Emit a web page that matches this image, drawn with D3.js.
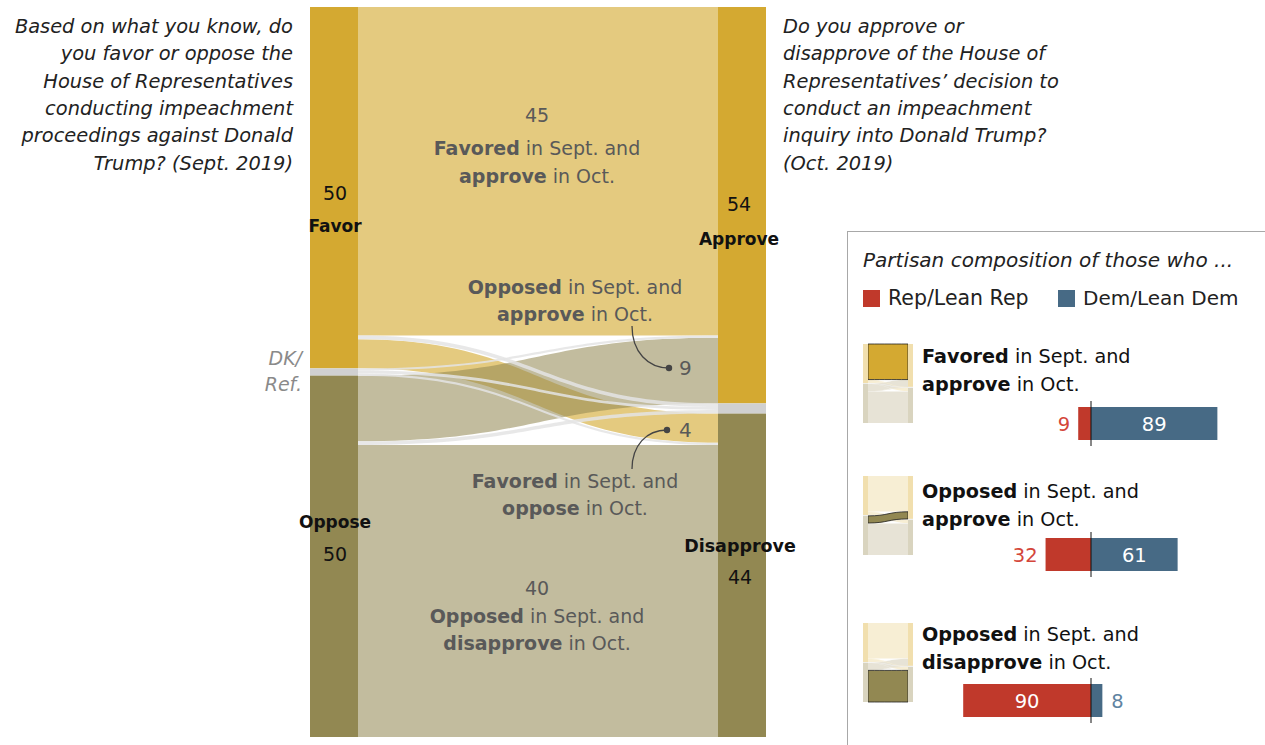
<!DOCTYPE html>
<html lang="en">
<head>
<meta charset="utf-8">
<style>
  body { margin: 0; background: #fff; }
  svg { display: block; font-family: "DejaVu Sans", Roboto, sans-serif; }
</style>
<script src="https://d3js.org/d3.v7.min.js"></script>
<title>Impeachment views, Sept. to Oct.</title>
</head>
<body>
<div id="canvas"></div>
<script>
var width = 1265, height = 745;

// answers in Sept. (left column) and Oct. (right column)
var septNodes = ["Favor", "DK/Ref.", "Oppose"];
var octNodes = ["Approve", "DK/Ref.", "Disapprove"];

// share of all adults moving from each Sept. answer to each Oct. answer
var flowSource = ["Favor", "Favor", "Favor", "DK/Ref.", "DK/Ref.", "DK/Ref.", "Oppose", "Oppose", "Oppose"];
var flowTarget = ["Approve", "DK/Ref.", "Disapprove", "Approve", "DK/Ref.", "Disapprove", "Approve", "DK/Ref.", "Disapprove"];
var flowValue = [45, 0.5, 4, 0.3, 0.4, 0.3, 9, 0.5, 40];

// partisan composition of three of the groups
var groupFlow = [0, 6, 8];
var repShare = [9, 32, 90];
var demShare = [89, 61, 8];

var nodeColor = { "Favor": "#d4a931", "Approve": "#d4a931", "DK/Ref.": "#d0d0d0", "Oppose": "#928852", "Disapprove": "#928852" };
var paleNode = { "Favor": "#f1dfae", "Approve": "#f1dfae", "DK/Ref.": "#eeeeee", "Oppose": "#d9d4bf", "Disapprove": "#d9d4bf" };
var paleLink = { "Favor": "#f7eed4", "DK/Ref.": "#f1f1f1", "Oppose": "#e7e3d6" };
var repColor = "#c0392b", demColor = "#476a85";

var svg = d3.select("#canvas").append("svg")
    .attr("width", width).attr("height", height);

// stacks the flows inside each node
function layout(y0, y1) {
    var links = flowValue.map(function(v, i) {
        return { source: flowSource[i], target: flowTarget[i], value: v, i: i };
    });
    var y = d3.scaleLinear().domain([0, d3.sum(flowValue)]).range([y0, y1]);
    var left = {}, right = {}, acc = 0;
    septNodes.forEach(function(n) {
        var v = d3.sum(links.filter(function(l) { return l.source === n; }), function(l) { return l.value; });
        left[n] = { start: acc, end: acc + v, value: v }; acc += v;
    });
    acc = 0;
    octNodes.forEach(function(n) {
        var v = d3.sum(links.filter(function(l) { return l.target === n; }), function(l) { return l.value; });
        right[n] = { start: acc, end: acc + v, value: v }; acc += v;
    });
    septNodes.forEach(function(s) {
        var c = left[s].start;
        octNodes.forEach(function(t) {
            links.filter(function(l) { return l.source === s && l.target === t; })
                .forEach(function(l) { l.s0 = c; c += l.value; l.s1 = c; });
        });
    });
    octNodes.forEach(function(t) {
        var c = right[t].start;
        septNodes.forEach(function(s) {
            links.filter(function(l) { return l.source === s && l.target === t; })
                .forEach(function(l) { l.t0 = c; c += l.value; l.t1 = c; });
        });
    });
    return { y: y, left: left, right: right, links: links };
}

function band(x0, x1, a0, a1, b0, b1) {
    var xm = (x0 + x1) / 2, p = d3.path();
    p.moveTo(x0, a0);
    p.bezierCurveTo(xm, a0, xm, b0, x1, b0);
    p.lineTo(x1, b1);
    p.bezierCurveTo(xm, b1, xm, a1, x0, a1);
    p.closePath();
    return p.toString();
}

function isDK(l) { return l.source === "DK/Ref." || l.target === "DK/Ref."; }

// draw order: straight bands, then the crossing ones, grey last
function drawOrder(l) {
    if (isDK(l)) return 3;
    if (l.source === "Oppose" && l.target === "Approve") return 2;
    if (l.source === "Favor" && l.target === "Disapprove") return 1;
    return 0;
}

function drawFlows(g, o) {
    var L = layout(o.y0, o.y1), y = L.y;
    var links = L.links.slice().sort(function(a, b) { return drawOrder(a) - drawOrder(b); });

    g.selectAll("path.flow").data(links).enter().append("path")
        .attr("class", "flow")
        .attr("d", function(l) { return band(o.xl1, o.xr0, y(l.s0), y(l.s1), y(l.t0), y(l.t1)); })
        .attr("fill", function(l) {
            if (o.pale) return paleLink[l.source];
            return isDK(l) ? "#e4e4e4" : nodeColor[l.source];
        })
        .attr("fill-opacity", function(l) {
            if (o.pale) return 1;
            if (isDK(l)) return 0.85;
            return l.source === "Favor" ? 0.62 : 0.56;
        });

    // highlighted band drawn again on top
    if (o.pale) {
        var h = L.links[o.highlight];
        g.append("path")
            .attr("d", band(o.xl1, o.xr0, y(h.s0), y(h.s1), y(h.t0), y(h.t1)))
            .attr("fill", nodeColor[h.source]).attr("stroke", "#222").attr("stroke-width", 0.8);
    }

    var fill = o.pale ? paleNode : nodeColor;
    g.selectAll("rect.left").data(septNodes).enter().append("rect")
        .attr("class", "left")
        .attr("x", o.xl0).attr("width", o.xl1 - o.xl0)
        .attr("y", function(n) { return y(L.left[n].start); })
        .attr("height", function(n) { return y(L.left[n].end) - y(L.left[n].start); })
        .attr("fill", function(n) { return fill[n]; });
    g.selectAll("rect.right").data(octNodes).enter().append("rect")
        .attr("class", "right")
        .attr("x", o.xr0).attr("width", o.xr1 - o.xr0)
        .attr("y", function(n) { return y(L.right[n].start); })
        .attr("height", function(n) { return y(L.right[n].end) - y(L.right[n].start); })
        .attr("fill", function(n) { return fill[n]; });
    return L;
}

function rich(g, x, y, segs, anchor, color, size) {
    var t = g.append("text").attr("x", x).attr("y", y)
        .attr("text-anchor", anchor).attr("fill", color).attr("font-size", size);
    segs.forEach(function(s) {
        t.append("tspan").attr("font-weight", s[1] ? "bold" : "normal").text(s[0]);
    });
    return t;
}

// main flow chart
var main = svg.append("g");
var M = drawFlows(main, { y0: 7, y1: 737, xl0: 310, xl1: 358, xr0: 718, xr1: 766, pale: false });

// node labels
var nodeText = svg.append("g").attr("text-anchor", "middle").attr("font-size", 19).attr("fill", "#111");
nodeText.append("text").attr("x", 335).attr("y", 200).text(Math.round(M.left["Favor"].value));
nodeText.append("text").attr("x", 335).attr("y", 232).attr("font-weight", "bold").attr("font-size", 17).text("Favor");
nodeText.append("text").attr("x", 335).attr("y", 528).attr("font-weight", "bold").attr("font-size", 17).text("Oppose");
nodeText.append("text").attr("x", 335).attr("y", 561).text(Math.round(M.left["Oppose"].value));
nodeText.append("text").attr("x", 739).attr("y", 211).text(Math.round(M.right["Approve"].value));
nodeText.append("text").attr("x", 739).attr("y", 245).attr("font-weight", "bold").attr("font-size", 17).text("Approve");
nodeText.append("text").attr("x", 740).attr("y", 552).attr("font-weight", "bold").attr("font-size", 17.5).text("Disapprove");
nodeText.append("text").attr("x", 740).attr("y", 584).text(Math.round(M.right["Disapprove"].value));

var dk = svg.append("g").attr("text-anchor", "end").attr("font-size", 19)
    .attr("font-style", "italic").attr("fill", "#8a8a8a");
dk.append("text").attr("x", 302).attr("y", 365).text("DK/");
dk.append("text").attr("x", 302).attr("y", 391).text("Ref.");

// questions
var qLeft = ["Based on what you know, do", "you favor or oppose the", "House of Representatives",
    "conducting impeachment", "proceedings against Donald", "Trump? (Sept. 2019)"];
var qRight = ["Do you approve or", "disapprove of the House of", "Representatives\u2019 decision to",
    "conduct an impeachment", "inquiry into Donald Trump?", "(Oct. 2019)"];
svg.append("g").attr("font-size", 19.4).attr("font-style", "italic").attr("fill", "#222")
    .attr("text-anchor", "end")
    .selectAll("text").data(qLeft).enter().append("text")
    .attr("x", 293).attr("y", function(d, i) { return 33 + i * 27.3; }).text(function(d) { return d; });
svg.append("g").attr("font-size", 19.4).attr("font-style", "italic").attr("fill", "#222")
    .selectAll("text").data(qRight).enter().append("text")
    .attr("x", 783).attr("y", function(d, i) { return 33 + i * 27.3; }).text(function(d) { return d; });

// flow annotations
var note = svg.append("g");
var grey = "#595959";
rich(note, 537, 122, [[Math.round(flowValue[0]), 0]], "middle", grey, 19);
rich(note, 537, 155, [["Favored", 1], [" in Sept. and", 0]], "middle", grey, 19);
rich(note, 537, 183, [["approve", 1], [" in Oct.", 0]], "middle", grey, 19);
rich(note, 575, 294, [["Opposed", 1], [" in Sept. and", 0]], "middle", grey, 19);
rich(note, 575, 321, [["approve", 1], [" in Oct.", 0]], "middle", grey, 19);
rich(note, 575, 488, [["Favored", 1], [" in Sept. and", 0]], "middle", grey, 19);
rich(note, 575, 515, [["oppose", 1], [" in Oct.", 0]], "middle", grey, 19);
rich(note, 537, 595, [[Math.round(flowValue[8]), 0]], "middle", grey, 19);
rich(note, 537, 623, [["Opposed", 1], [" in Sept. and", 0]], "middle", grey, 19);
rich(note, 537, 650, [["disapprove", 1], [" in Oct.", 0]], "middle", grey, 19);
rich(note, 679, 375, [[flowValue[6], 0]], "start", grey, 20);
rich(note, 679, 437, [[flowValue[2], 0]], "start", grey, 20);

note.append("path").attr("d", "M632,326C632,352 648,368 669,368")
    .attr("fill", "none").attr("stroke", "#444").attr("stroke-width", 1.3);
note.append("path").attr("d", "M667,430C646,430 632,446 632,469")
    .attr("fill", "none").attr("stroke", "#444").attr("stroke-width", 1.3);
note.append("circle").attr("cx", 669).attr("cy", 368).attr("r", 3.2).attr("fill", "#444");
note.append("circle").attr("cx", 667).attr("cy", 430).attr("r", 3.2).attr("fill", "#444");

// partisan panel
var panel = svg.append("g");
panel.append("rect").attr("x", 847.5).attr("y", 231.5).attr("width", 500).attr("height", 600)
    .attr("fill", "#fff").attr("stroke", "#a8a8a8");
panel.append("text").attr("x", 863).attr("y", 267).attr("font-size", 20).attr("font-style", "italic")
    .attr("fill", "#222").text("Partisan composition of those who ...");
panel.append("rect").attr("x", 863).attr("y", 290).attr("width", 17).attr("height", 17).attr("fill", repColor);
panel.append("text").attr("x", 888).attr("y", 305).attr("font-size", 20.5).attr("fill", "#222").text("Rep/Lean Rep");
panel.append("rect").attr("x", 1058).attr("y", 290).attr("width", 17).attr("height", 17).attr("fill", demColor);
panel.append("text").attr("x", 1083).attr("y", 305).attr("font-size", 20).attr("fill", "#222").text("Dem/Lean Dem");

var groupText = [
    [[["Favored", 1], [" in Sept. and", 0]], [["approve", 1], [" in Oct.", 0]]],
    [[["Opposed", 1], [" in Sept. and", 0]], [["approve", 1], [" in Oct.", 0]]],
    [[["Opposed", 1], [" in Sept. and", 0]], [["disapprove", 1], [" in Oct.", 0]]]
];
var iconTop = [344, 476, 623], textTop = [363, 498, 641], barTop = [407, 538, 684];
var barH = 33, zero = 1091;
var bx = d3.scaleLinear().domain([0, 100]).range([0, 142]);

groupFlow.forEach(function(f, k) {
    var g = panel.append("g");
    drawFlows(g, { y0: iconTop[k], y1: iconTop[k] + 79, xl0: 863, xl1: 868, xr0: 908, xr1: 913, pale: true, highlight: f });
    rich(g, 922, textTop[k], groupText[k][0], "start", "#111", 19.2);
    rich(g, 922, textTop[k] + 28, groupText[k][1], "start", "#111", 19.2);

    var r = bx(repShare[k]), d = bx(demShare[k]), ty = barTop[k] + barH / 2 + 7;
    g.append("rect").attr("x", zero - r).attr("y", barTop[k]).attr("width", r).attr("height", barH).attr("fill", repColor);
    g.append("rect").attr("x", zero).attr("y", barTop[k]).attr("width", d).attr("height", barH).attr("fill", demColor);
    if (r > 50) rich(g, zero - r / 2, ty, [[repShare[k], 0]], "middle", "#fff", 19.5);
    else rich(g, zero - r - 8, ty, [[repShare[k], 0]], "end", "#d4463a", 19.5);
    if (d > 50) rich(g, zero + d / 2, ty, [[demShare[k], 0]], "middle", "#fff", 19.5);
    else rich(g, zero + d + 9, ty, [[demShare[k], 0]], "start", "#5f84a2", 19.5);
    g.append("line").attr("x1", zero).attr("x2", zero)
        .attr("y1", barTop[k] - 6).attr("y2", barTop[k] + barH + 6)
        .attr("stroke", "#111").attr("stroke-width", 1);
});
</script>
</body>
</html>
